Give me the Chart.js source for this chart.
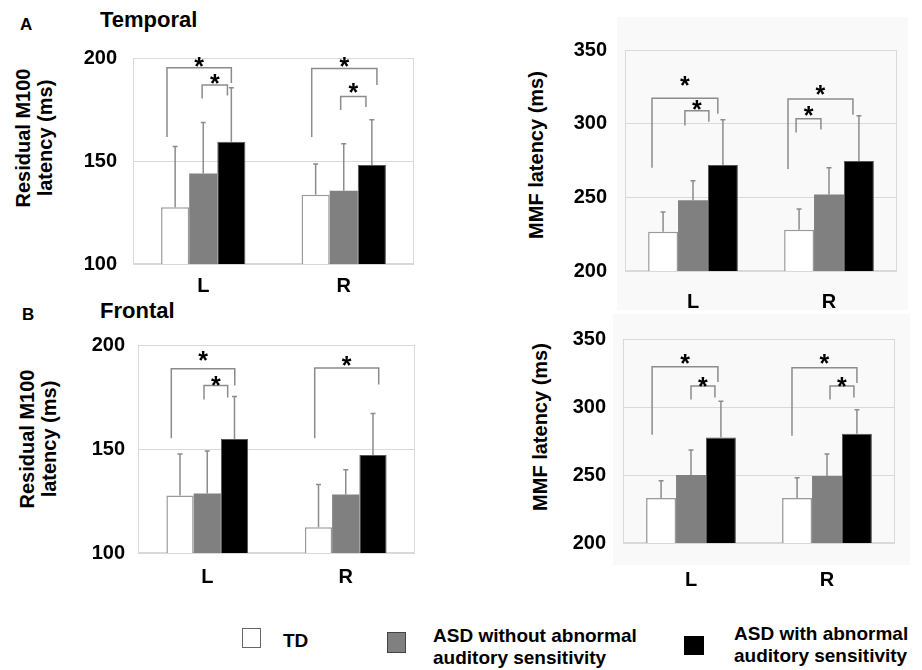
<!DOCTYPE html>
<html>
<head>
<meta charset="utf-8">
<script src="https://cdn.jsdelivr.net/npm/chart.js@4.4.1/dist/chart.umd.min.js"></script>
<style>
  body { margin: 0; background: #fff; width: 922px; height: 670px; position: relative; overflow: hidden;
         font-family: "Liberation Sans", Arial, sans-serif; }
  canvas { position: absolute; }
  .txt { position: absolute; font-weight: bold; color: #000; white-space: nowrap; line-height: 1; }
  .ytitle { position: absolute; font-weight: bold; font-size: 20px; line-height: 22px; text-align: center;
            white-space: nowrap; transform: translate(-50%, -50%) rotate(-90deg); }
  .bg { position: absolute; background: #f9f9f9; }
  .box { position: absolute; box-sizing: border-box; }
  .leg { position: absolute; font-weight: bold; font-size: 19px; line-height: 22px; white-space: nowrap; }
</style>
</head>
<body>

<div class="bg" style="left:617px;top:17px;width:291px;height:293px"></div>
<div class="bg" style="left:613px;top:314px;width:297px;height:251px"></div>

<div class="txt" style="left:20px;top:16px;font-size:17px">A</div>
<div class="txt" style="left:100px;top:9px;font-size:22px">Temporal</div>
<div class="txt" style="left:22px;top:306px;font-size:17px">B</div>
<div class="txt" style="left:100px;top:300px;font-size:22px">Frontal</div>

<div class="ytitle" style="left:34px;top:138px">Residual M100<br>latency (ms)</div>
<div class="ytitle" style="left:536px;top:155px">MMF latency (ms)</div>
<div class="ytitle" style="left:38px;top:439px">Residual M100<br>latency (ms)</div>
<div class="ytitle" style="left:540px;top:427px">MMF latency (ms)</div>

<canvas id="tempM100" width="430" height="275" style="left:0;top:30px"></canvas>
<canvas id="tempMMF" width="450" height="300" style="left:460px;top:20px"></canvas>
<canvas id="frontM100" width="430" height="270" style="left:0;top:320px"></canvas>
<canvas id="frontMMF" width="450" height="285" style="left:460px;top:310px"></canvas>

<div class="box" style="left:242px;top:628px;width:19px;height:20px;border:1.5px solid #666;background:#fff"></div>
<div class="leg" style="left:283px;top:630px">TD</div>
<div class="box" style="left:387px;top:632px;width:19px;height:21px;border:1.5px solid #444;background:#808080"></div>
<div class="leg" style="left:433px;top:625px">ASD without abnormal<br>auditory sensitivity</div>
<div class="box" style="left:684px;top:636px;width:20px;height:19px;background:#000"></div>
<div class="leg" style="left:734px;top:623px">ASD with abnormal<br>auditory sensitivity</div>

<script>
// categories and groups
const categories = ['L', 'R'];
const groupNames = ['TD', 'ASD without abnormal auditory sensitivity', 'ASD with abnormal auditory sensitivity'];

// A - temporal, residual M100 latency (ms)
const tempM100TD = [127.6, 133.6];
const tempM100NoAbn = [143.9, 135.5];
const tempM100Abn = [159.3, 148.1];
const tempM100Sd = [[29.4, 15.0], [24.8, 22.9], [26.2, 21.9]];

// A - temporal, MMF latency (ms)
const tempMMFTD = [226.7, 228.0];
const tempMMFNoAbn = [248.0, 252.0];
const tempMMFAbn = [272.0, 274.7];
const tempMMFSd = [[13.3, 14.0], [13.3, 18.0], [30.7, 30.6]];

// B - frontal, residual M100 latency (ms)
const frontM100TD = [127.6, 112.4];
const frontM100NoAbn = [128.6, 128.1];
const frontM100Abn = [154.8, 147.1];
const frontM100Sd = [[20.0, 20.5], [20.4, 11.9], [20.4, 20.0]];

// B - frontal, MMF latency (ms)
const frontMMFTD = [233.1, 233.1];
const frontMMFNoAbn = [250.0, 249.3];
const frontMMFAbn = [277.5, 280.3];
const frontMMFSd = [[12.7, 14.8], [18.3, 16.2], [26.7, 17.6]];

// significance brackets: [category, fromSlot, toSlot, topValue, leftLegEnd, rightLegEnd, starValue]
const tempM100Brackets = [
  [0, -0.29, 2.0, 195.3, 161.7, 187.9, 198.6],
  [0, 0.96, 1.86, 186.9, 180.4, 181.8, 190.2],
  [1, -0.14, 2.18, 194.9, 161.7, 186.9, 198.6],
  [1, 0.89, 1.79, 181.3, 174.8, 176.2, 186.0]
];
const tempMMFBrackets = [
  [0, -0.37, 1.83, 317.3, 270.0, 306.7, 330.0],
  [0, 0.73, 1.53, 308.7, 298.7, 301.3, 313.3],
  [1, -0.37, 1.8, 316.7, 269.3, 306.0, 324.0],
  [1, -0.1, 0.73, 303.3, 294.0, 296.0, 309.3]
];
const frontM100Brackets = [
  [0, -0.32, 2.01, 188.6, 155.2, 180.5, 195.2],
  [0, 0.88, 1.75, 180.5, 173.8, 174.8, 183.3],
  [1, -0.14, 2.21, 189.0, 155.2, 181.0, 192.9]
];
const frontMMFBrackets = [
  [0, -0.3, 1.9, 329.6, 279.6, 318.3, 335.9],
  [0, 1.0, 1.8, 315.5, 305.6, 307.0, 319.0],
  [1, -0.17, 2.0, 328.8, 278.9, 317.6, 335.9],
  [1, 1.1, 1.9, 315.5, 305.6, 307.0, 319.0]
];

const FONT = '"Liberation Sans", Arial, sans-serif';
Chart.defaults.font.family = FONT;
Chart.defaults.color = '#000';

const annotPlugin = {
  id: 'annot',
  beforeDatasetsDraw(chart) {
    const a = chart.chartArea, ctx = chart.ctx;
    ctx.save();
    ctx.strokeStyle = '#d9d9d9';
    ctx.lineWidth = 1;
    ctx.strokeRect(a.left + 0.5, a.top + 0.5, a.right - a.left - 1, a.bottom - a.top - 1);
    ctx.restore();
  },
  afterDatasetsDraw(chart, args, opts) {
    const ctx = chart.ctx, y = chart.scales.y;
    ctx.save();
    // error bars (upper only)
    ctx.strokeStyle = '#8c8c8c';
    ctx.lineWidth = 1.5;
    chart.data.datasets.forEach((ds, i) => {
      chart.getDatasetMeta(i).data.forEach((el, j) => {
        const top = y.getPixelForValue(ds.data[j] + opts.sd[i][j]);
        ctx.beginPath();
        ctx.moveTo(el.x, el.y);
        ctx.lineTo(el.x, top);
        ctx.moveTo(el.x - 2.5, top);
        ctx.lineTo(el.x + 2.5, top);
        ctx.stroke();
      });
    });
    // brackets and stars
    const bars = chart.getDatasetMeta(0).data;
    opts.brackets.forEach(b => {
      const el = bars[b[0]], bw = el.width;
      const x1 = el.x + b[1] * bw, x2 = el.x + b[2] * bw;
      ctx.strokeStyle = '#8c8c8c';
      ctx.lineWidth = 1.5;
      ctx.beginPath();
      ctx.moveTo(x1, y.getPixelForValue(b[4]));
      ctx.lineTo(x1, y.getPixelForValue(b[3]));
      ctx.lineTo(x2, y.getPixelForValue(b[3]));
      ctx.lineTo(x2, y.getPixelForValue(b[5]));
      ctx.stroke();
      ctx.fillStyle = '#000';
      ctx.font = 'bold 25px ' + FONT;
      ctx.textAlign = 'center';
      ctx.textBaseline = 'alphabetic';
      ctx.fillText('*', (x1 + x2) / 2, y.getPixelForValue(b[6]) + 0.57 * 25);
    });
    ctx.restore();
  }
};

function makePanel(id, box, area, series, sd, brackets, yMin, yMax, groupPct, yPad, xPad) {
  const yWidth = area.left - box.left;
  const xHeight = box.top + box.h - area.bottom;
  return new Chart(document.getElementById(id), {
    type: 'bar',
    data: {
      labels: categories,
      datasets: [
        { label: groupNames[0], data: series[0], backgroundColor: '#ffffff', borderColor: '#9a9a9a', borderWidth: 1.5 },
        { label: groupNames[1], data: series[1], backgroundColor: '#808080', borderColor: '#808080', borderWidth: 0 },
        { label: groupNames[2], data: series[2], backgroundColor: '#000000', borderColor: '#555555', borderWidth: 1 }
      ]
    },
    options: {
      responsive: false,
      animation: false,
      devicePixelRatio: 1,
      categoryPercentage: groupPct,
      barPercentage: 1,
      layout: { padding: { left: 0, top: area.top - box.top, right: box.left + box.w - area.right, bottom: 0 } },
      plugins: {
        legend: { display: false },
        tooltip: { enabled: false },
        annot: { sd: sd, brackets: brackets }
      },
      scales: {
        x: {
          grid: { display: false, drawTicks: false },
          border: { display: false },
          ticks: { font: { size: 20, weight: 'bold' }, padding: xPad },
          afterFit(s) { s.height = xHeight; }
        },
        y: {
          min: yMin, max: yMax,
          grid: { color: '#d9d9d9', lineWidth: 1, drawTicks: false },
          border: { display: false },
          ticks: { stepSize: 50, font: { size: 20, weight: 'bold' }, padding: yPad },
          afterFit(s) { s.width = yWidth; }
        }
      }
    },
    plugins: [annotPlugin]
  });
}

makePanel('tempM100', { left: 0, top: 30, w: 430, h: 275 }, { left: 133, top: 48, right: 414, bottom: 264 },
  [tempM100TD, tempM100NoAbn, tempM100Abn], tempM100Sd, tempM100Brackets, 100, 200, 0.6, 16, 10);
makePanel('tempMMF', { left: 460, top: 20, w: 450, h: 300 }, { left: 625, top: 46, right: 897, bottom: 271 },
  [tempMMFTD, tempMMFNoAbn, tempMMFAbn], tempMMFSd, tempMMFBrackets, 200, 350, 0.66, 18, 19);
makePanel('frontM100', { left: 0, top: 320, w: 430, h: 270 }, { left: 138, top: 343, right: 415, bottom: 553 },
  [frontM100TD, frontM100NoAbn, frontM100Abn], frontM100Sd, frontM100Brackets, 100, 200, 0.59, 13, 12);
makePanel('frontMMF', { left: 460, top: 310, w: 450, h: 285 }, { left: 623, top: 330, right: 895, bottom: 543 },
  [frontMMFTD, frontMMFNoAbn, frontMMFAbn], frontMMFSd, frontMMFBrackets, 200, 350, 0.66, 17, 25);
</script>
</body>
</html>
